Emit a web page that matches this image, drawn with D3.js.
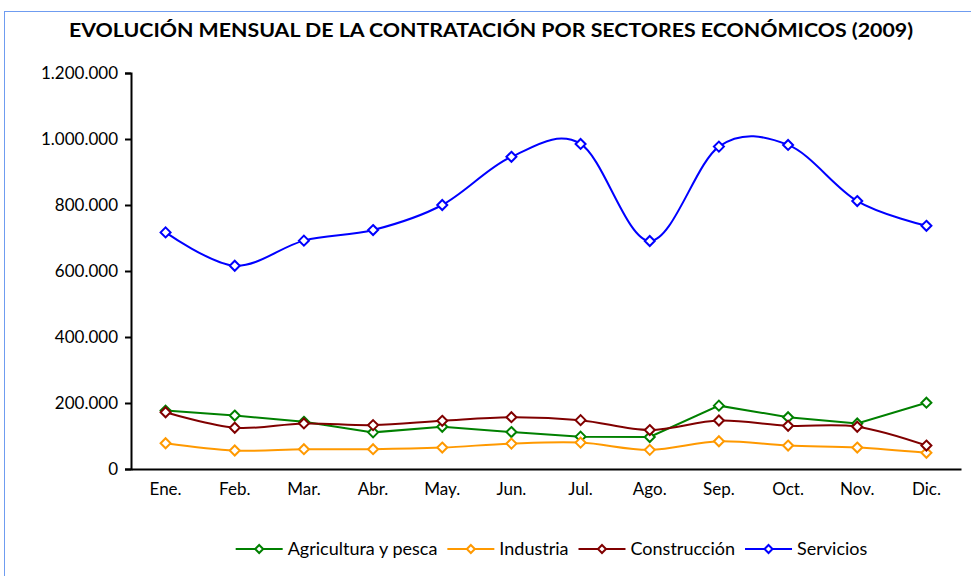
<!DOCTYPE html>
<html>
<head>
    <script src="https://d3js.org/d3.v7.min.js"></script>
    <style>
        body { margin: 0; background: #fff; }
        text { font-family: Lato, "Open Sans", sans-serif; fill: #000; }
    </style>
</head>
<body>
    <script>
        // datos
        const meses = ["Ene.", "Feb.", "Mar.", "Abr.", "May.", "Jun.", "Jul.", "Ago.", "Sep.", "Oct.", "Nov.", "Dic."];
        const agricultura = [177000, 162000, 143000, 111000, 128000, 112000, 98000, 97000, 192000, 157000, 138000, 201000];
        const industria = [78000, 56000, 60000, 60000, 65000, 77000, 80000, 58000, 84000, 71000, 65000, 49000];
        const construccion = [172000, 125000, 138000, 133000, 146000, 157000, 148000, 118000, 147000, 131000, 128000, 71000];
        const servicios = [717000, 616000, 692000, 724000, 800000, 946000, 985000, 691000, 977000, 982000, 812000, 737000];
        const yTicks = [0, 200000, 400000, 600000, 800000, 1000000, 1200000];

        const series = [
            { name: "Agricultura y pesca", values: agricultura, color: "#008000", smooth: false },
            { name: "Industria", values: industria, color: "#FF9900", smooth: true },
            { name: "Construcción", values: construccion, color: "#800000", smooth: true },
            { name: "Servicios", values: servicios, color: "#0000FF", smooth: true }
        ];

        const width = 971, height = 576;
        const margin = { top: 73, right: 10, bottom: 107, left: 131 };

        const svg = d3.select("body").append("svg")
            .attr("width", width)
            .attr("height", height);

        // marco
        svg.append("rect")
            .attr("x", 4.5).attr("y", 11.5)
            .attr("width", 1000).attr("height", 600)
            .attr("fill", "none")
            .attr("stroke", "#6f9cf0");

        svg.append("text")
            .attr("x", 69).attr("y", 36.5)
            .attr("font-size", 19)
            .attr("font-weight", "bold")
            .attr("textLength", 844)
            .attr("lengthAdjust", "spacingAndGlyphs")
            .text("EVOLUCIÓN MENSUAL DE LA CONTRATACIÓN POR SECTORES ECONÓMICOS (2009)");

        const x = d3.scaleBand()
            .domain(meses)
            .range([margin.left, width - margin.right]);

        const y = d3.scaleLinear()
            .domain([0, 1200000])
            .range([height - margin.bottom, margin.top]);

        const fmt = v => d3.format(",")(v).replace(/,/g, ".");

        // eje Y
        const yAxis = svg.append("g")
            .attr("transform", `translate(${margin.left},0)`)
            .call(d3.axisLeft(y).tickValues(yTicks).tickFormat(fmt).tickSize(6).tickPadding(7));
        yAxis.select(".domain").attr("stroke", "#000").attr("stroke-width", 2);
        yAxis.selectAll(".tick line").attr("stroke", "#000").attr("stroke-width", 2);
        yAxis.selectAll("text").attr("font-size", 17).attr("font-family", "Lato, sans-serif").attr("fill", "#000");

        // eje X
        const xAxis = svg.append("g")
            .attr("transform", `translate(0,${height - margin.bottom})`)
            .call(d3.axisBottom(x).tickSize(0).tickPadding(14).tickSizeOuter(0));
        xAxis.select(".domain").attr("stroke", "#000").attr("stroke-width", 2);
        xAxis.selectAll("text").attr("font-size", 17).attr("font-family", "Lato, sans-serif").attr("fill", "#000");

        const cx = (d, i) => x(meses[i]) + x.bandwidth() / 2;

        const diamond = s => `M0,${-s}L${s},0L0,${s}L${-s},0Z`;

        series.forEach(s => {
            const line = d3.line()
                .x(cx)
                .y(d => y(d))
                .curve(s.smooth ? d3.curveCatmullRom.alpha(0) : d3.curveLinear);

            svg.append("path")
                .datum(s.values)
                .attr("d", line)
                .attr("fill", "none")
                .attr("stroke", s.color)
                .attr("stroke-width", 2);

            svg.selectAll(null)
                .data(s.values)
                .join("path")
                .attr("d", diamond(5))
                .attr("transform", (d, i) => `translate(${cx(d, i)},${y(d)})`)
                .attr("fill", "#fff")
                .attr("stroke", s.color)
                .attr("stroke-width", 2);
        });

        // leyenda
        const legend = svg.append("g");
        let lx = 0;
        series.forEach(s => {
            const item = legend.append("g").attr("transform", `translate(${lx},0)`);
            item.append("line")
                .attr("x1", 0).attr("x2", 47)
                .attr("stroke", s.color).attr("stroke-width", 2);
            item.append("path")
                .attr("d", diamond(4))
                .attr("transform", "translate(23.5,0)")
                .attr("fill", "#fff")
                .attr("stroke", s.color)
                .attr("stroke-width", 2);
            const t = item.append("text")
                .attr("x", 52).attr("dy", "0.35em")
                .attr("font-size", 18)
                .text(s.name);
            lx += 52 + t.node().getComputedTextLength() + 10;
        });
        const lw = lx - 10;
        legend.attr("transform", `translate(${551.5 - lw / 2},549)`);
    </script>
</body>
</html>
